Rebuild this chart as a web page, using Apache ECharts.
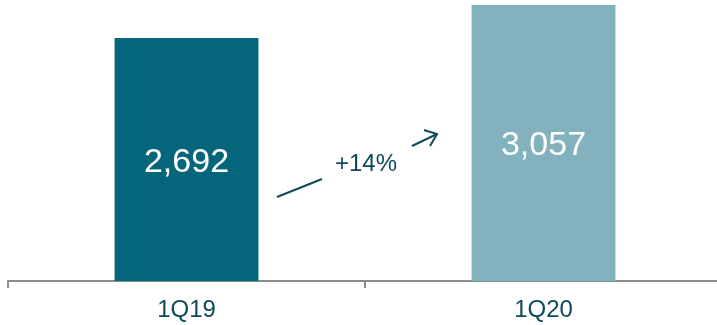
<!DOCTYPE html>
<html><head><meta charset="utf-8">
<script src="https://cdn.jsdelivr.net/npm/echarts@6/dist/echarts.min.js"></script>
<style>html,body{margin:0;padding:0;background:#fff}#c{width:717px;height:325px}</style>
</head><body><div id="c"></div>
<script>
var categories = ['1Q19', '1Q20'];
var values = [2692, 3057];
var barColors = ['#05657A', '#83B2BE'];
var growthLabel = '+14%';

var chart = echarts.init(document.getElementById('c'), null, {renderer: 'canvas'});
var font = '"Liberation Sans", Arial, sans-serif';
chart.setOption({
  animation: false,
  grid: {left: 8, right: -5, top: 5, bottom: 44, containLabel: false, outerBoundsMode: 'none'},
  xAxis: {
    type: 'category', data: categories,
    axisLine: {lineStyle: {color: '#8c8c8c', width: 2}},
    axisTick: {show: true, length: 7, lineStyle: {color: '#8c8c8c', width: 2}},
    axisLabel: {color: '#0d4a5a', fontSize: 24, fontFamily: font, margin: 17}
  },
  yAxis: {type: 'value', min: 0, max: 3057, show: false, splitLine: {show: false}},
  series: [{
    type: 'bar', barWidth: '40.3%',
    data: values.map(function (v, i) { return {value: v, itemStyle: {color: barColors[i]}}; }),
    label: {show: true, position: 'inside', offset: [0, 3], color: '#fff', fontSize: 34, fontFamily: font,
      formatter: function (p) { return p.value.toLocaleString('en-US'); }}
  }],
  graphic: [
    {type: 'line', shape: {x1: 277, y1: 197, x2: 322, y2: 179}, style: {stroke: '#0d4a5a', lineWidth: 2}},
    {type: 'line', shape: {x1: 412, y1: 146, x2: 437, y2: 134}, style: {stroke: '#0d4a5a', lineWidth: 2}},
    {type: 'polyline', shape: {points: [[424, 130], [437, 134], [430, 146]]}, style: {stroke: '#0d4a5a', lineWidth: 2, fill: null}},
    {type: 'text', x: 366, y: 164, style: {text: growthLabel, fill: '#0d4a5a', font: '24px ' + font, textAlign: 'center', textVerticalAlign: 'middle'}}
  ]
});
</script></body></html>
